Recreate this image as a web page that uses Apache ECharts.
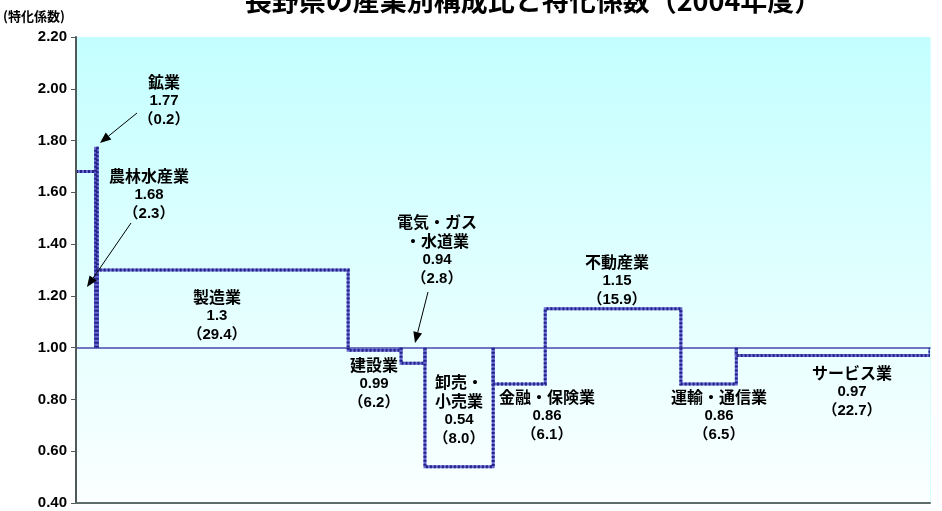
<!DOCTYPE html>
<html><head><meta charset="utf-8">
<script src="https://cdn.jsdelivr.net/npm/echarts@6/dist/echarts.min.js"></script>
<style>html,body{margin:0;padding:0;background:#fff}#c{width:942px;height:511px}</style>
</head><body><div id="c"></div>
<script>
const categories = ['農林水産業','鉱業','製造業','建設業','電気・ガス・水道業','卸売・小売業','金融・保険業','不動産業','運輸・通信業','サービス業'];
const labelNames = ['農林水産業','鉱業','製造業','建設業','電気・ガス\n・水道業','卸売・\n小売業','金融・保険業','不動産業','運輸・通信業','サービス業'];
const shares = [2.3, 0.2, 29.4, 6.2, 2.8, 8.0, 6.1, 15.9, 6.5, 22.7];
const coefficients = [1.68, 1.77, 1.3, 0.99, 0.94, 0.54, 0.86, 1.15, 0.86, 0.97];
const yMin = 0.4, yMax = 2.2, yStep = 0.2, baseLine = 1.0;

// annotation layout (pixels): label centre x, first line centre y
const labelPos = [[149,176],[164,82],[217,297],[374,365],[437,222],[459,382],[547,397],[617,262],[719,397],[852,373]];
const arrows = [[137,113,100,143],[131,223,87,287],[428,292,415,343]];

const total = shares.reduce((a,b)=>a+b,0);
let acc = 0;
const barData = shares.map((s,i)=>{ const d=[acc, acc+s, coefficients[i], i]; acc+=s; return d; });

const grid = {left:76, top:37, right:12, bottom:8};
const plotH = 511 - grid.top - grid.bottom;

const chart = echarts.init(document.getElementById('c'), null, {renderer:'canvas'});

const graphics = [];
graphics.push({type:'text', x:533, y:1, z:10,
  style:{text:'長野県の産業別構成比と特化係数（2004年度）', align:'center', verticalAlign:'middle', fill:'#000', font:'bold 27px "Noto Sans CJK JP"'}});
graphics.push({type:'text', x:3, y:16, z:10,
  style:{text:'(特化係数)', verticalAlign:'middle', fill:'#000', font:'bold 13px "Noto Sans CJK JP"'}});

labelNames.forEach((nm,i)=>{
  const lines = nm.split('\n').map(s=>'{n|'+s+'}');
  lines.push('{v|'+String(coefficients[i])+'}');
  lines.push('{v|（'+shares[i].toFixed(1)+'）}');
  const lh = 18.8;
  graphics.push({type:'text', x:labelPos[i][0], y:labelPos[i][1]-lh/2, z:10,
    style:{text:lines.join('\n'), align:'center', verticalAlign:'top', fill:'#000',
      rich:{
        n:{font:'bold 16px "Noto Sans CJK JP"', lineHeight:lh, fill:'#000', align:'center'},
        v:{font:'bold 15px "Liberation Sans", "Noto Sans CJK JP"', lineHeight:lh, fill:'#000', align:'center'}
      }}});
});

arrows.forEach(a=>{
  const [x1,y1,x2,y2]=a;
  const dx=x2-x1, dy=y2-y1, L=Math.hypot(dx,dy), ux=dx/L, uy=dy/L;
  const hl=11, hw=4.5;
  const bx=x2-ux*hl, by=y2-uy*hl;
  graphics.push({type:'line', z:10, shape:{x1:x1,y1:y1,x2:bx,y2:by}, style:{stroke:'#000', lineWidth:1}});
  graphics.push({type:'polygon', z:10, shape:{points:[[x2,y2],[bx-uy*hw,by+ux*hw],[bx+uy*hw,by-ux*hw]]}, style:{fill:'#000'}});
});
graphics.push({type:'line', z:1, shape:{x1:930.5,y1:37,x2:930.5,y2:503}, style:{stroke:'#d6ffff', lineWidth:1}});

chart.setOption({
  animation:false,
  grid:{...grid, show:true, borderWidth:0,
    backgroundColor:{type:'linear', x:0, y:0, x2:0, y2:1, colorStops:[{offset:0,color:'#c4ffff'},{offset:1,color:'#fbffff'}]}},
  xAxis:[
    {type:'value', min:0, max:total, position:'bottom', z:5,
     axisLine:{show:true, lineStyle:{color:'#5e6b6b', width:2}}, axisTick:{show:false}, axisLabel:{show:false}, splitLine:{show:false}},
    {type:'value', min:0, max:total, position:'bottom', offset:-plotH*(baseLine-yMin)/(yMax-yMin), z:1,
     axisLine:{show:true, lineStyle:{color:'#4a4aae', width:1.5}}, axisTick:{show:false}, axisLabel:{show:false}, splitLine:{show:false}}
  ],
  yAxis:{type:'value', min:yMin, max:yMax, interval:yStep, z:5,
    axisLine:{show:true, lineStyle:{color:'#505858', width:2}},
    axisTick:{show:true, length:5, lineStyle:{color:'#505858', width:1}},
    splitLine:{show:false},
    axisLabel:{margin:9, color:'#000', fontWeight:'bold', fontSize:15, fontFamily:'Liberation Sans', formatter:v=>v.toFixed(2)}},
  series:[{
    type:'custom', xAxisIndex:0, data:barData, clip:true, z:2,
    renderItem:(params, api)=>{
      const a=api.coord([api.value(0), baseLine]);
      const b=api.coord([api.value(0), api.value(2)]);
      const c=api.coord([api.value(1), api.value(2)]);
      const d=api.coord([api.value(1), baseLine]);
      // the first bar's left side lies on the value axis and is hidden there
      const pts = api.value(0) === 0 ? [b,c,d] : [a,b,c,d];
      return {type:'group', children:[
        {type:'polyline', shape:{points:pts}, style:{fill:'none', stroke:'#6b6bd0', lineWidth:3}},
        {type:'polyline', shape:{points:pts}, style:{fill:'none', stroke:'#23238c', lineWidth:3, lineDash:[2,2]}}
      ]};
    }
  }],
  graphic:graphics
});
</script></body></html>
